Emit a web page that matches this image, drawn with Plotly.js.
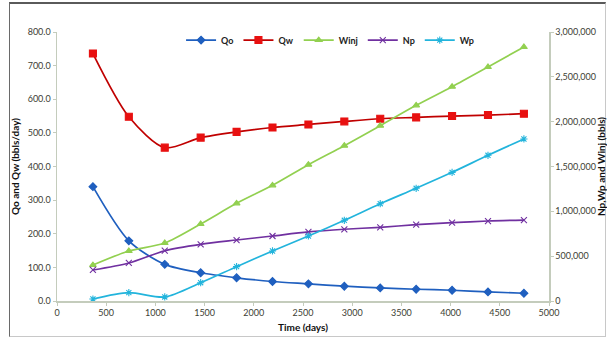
<!DOCTYPE html>
<html>
<head>
<meta charset="utf-8">
<script src="https://cdn.plot.ly/plotly-3.0.1.min.js"></script>
<style>
  html, body { margin: 0; padding: 0; background: #ffffff; }
  #frame {
    position: absolute; left: 9px; top: 2px; width: 595px; height: 332px;
    border-top: 2px solid #5a5a5a; border-left: 1px solid #6a6a6a;
    border-right: 1px solid #c8c8c8; border-bottom: 1px solid #c8c8c8;
  }
  #chart { position: absolute; left: 0; top: 0; width: 607px; height: 337px; }
</style>
</head>
<body>
<div id="frame"></div>
<div id="chart"></div>
<script>
// Production / injection history over time
const timeDays = [365, 730, 1095, 1460, 1825, 2190, 2555, 2920, 3285, 3650, 4015, 4380, 4745];

// Rates, bbls/day (left axis)
const qo = [340, 179, 109, 84, 69, 58, 51, 44, 39, 35, 32, 27, 23];
const qw = [736, 548, 456, 486, 503, 516, 525, 534, 542, 546, 550, 553, 557];

// Cumulative volumes, bbls (right axis)
const winj = [401000, 558000, 647000, 859000, 1089000, 1290000, 1520000, 1732000, 1955000, 2182000, 2390000, 2610000, 2833000];
const np   = [346000, 424000, 561000, 632000, 680000, 725000, 770000, 800000, 822000, 851000, 873000, 892000, 903000];
const wp   = [22000, 93000, 45000, 204000, 383000, 558000, 725000, 900000, 1085000, 1257000, 1435000, 1625000, 1807000];

const xTicks = [0, 500, 1000, 1500, 2000, 2500, 3000, 3500, 4000, 4500, 5000];

const font = 'Lato, "Liberation Sans", sans-serif';
const axisLine = '#c4ccbc';
const tickColor = '#3c4034';

function series(name, x, y, yaxis, lineColor, markerColor, symbol, size) {
  return {
    type: 'scatter', mode: 'lines+markers', name: name, x: x, y: y, yaxis: yaxis,
    line: { color: lineColor, width: 1.7, shape: 'spline', smoothing: 0.8 },
    marker: { symbol: symbol, size: size, color: markerColor,
              line: { color: markerColor, width: 1.1 } }
  };
}

const traces = [
  series('Qo', timeDays, qo, 'y', '#1f5fbf', '#1f5fbf', 'diamond', 6),
  series('Qw', timeDays, qw, 'y', '#c00000', '#e81010', 'square', 7),
  series('Winj', timeDays, winj, 'y2', '#92d050', '#92d050', 'triangle-up', 6),
  series('Np', timeDays, np, 'y2', '#7030a0', '#7030a0', 'x-thin-open', 6),
  series('Wp', timeDays, wp, 'y2', '#22b4dc', '#22b4dc', 'asterisk-open', 6)
];

const layout = {
  width: 607, height: 337,
  margin: { l: 57, r: 58, t: 32, b: 36 },
  paper_bgcolor: 'rgba(0,0,0,0)', plot_bgcolor: '#ffffff',
  font: { family: font, size: 9, color: tickColor },
  showlegend: true,
  legend: {
    orientation: 'h', x: 0.555, xanchor: 'center', y: 0.97, yanchor: 'middle',
    bgcolor: 'rgba(0,0,0,0)', font: { family: font, size: 9, color: '#222222', weight: 'bold' },
    itemwidth: 30, tracegroupgap: 0
  },
  xaxis: {
    range: [0, 5000], tickvals: xTicks, ticktext: xTicks.map(String),
    showgrid: false, zeroline: false, showline: true, linecolor: axisLine, linewidth: 1.5,
    ticks: 'outside', ticklen: 3, tickcolor: axisLine,
    tickfont: { family: font, size: 9, color: tickColor },
    title: { text: 'Time (days)', font: { family: font, size: 10, color: '#111111', weight: 'bold' }, standoff: 6 }
  },
  yaxis: {
    range: [0, 800], dtick: 100, tickformat: '.1f',
    showgrid: false, zeroline: false, showline: true, linecolor: axisLine, linewidth: 1.5,
    ticks: 'outside', ticklen: 3, tickcolor: axisLine,
    tickfont: { family: font, size: 9, color: tickColor },
    title: { text: 'Qo and Qw (bbls/day)', font: { family: font, size: 10, color: '#111111', weight: 'bold' }, standoff: 6 }
  },
  yaxis2: {
    overlaying: 'y', side: 'right', range: [0, 3000000], dtick: 500000, tickformat: ',d',
    showgrid: false, zeroline: false, showline: true, linecolor: axisLine, linewidth: 1.5,
    ticks: 'outside', ticklen: 3, tickcolor: axisLine,
    tickfont: { family: font, size: 9, color: tickColor },
    title: { text: 'Np,Wp and Winj (bbls)', font: { family: font, size: 10, color: '#111111', weight: 'bold' }, standoff: 2 }
  }
};

Plotly.newPlot('chart', traces, layout, { displayModeBar: false, staticPlot: true });
</script>
</body>
</html>
